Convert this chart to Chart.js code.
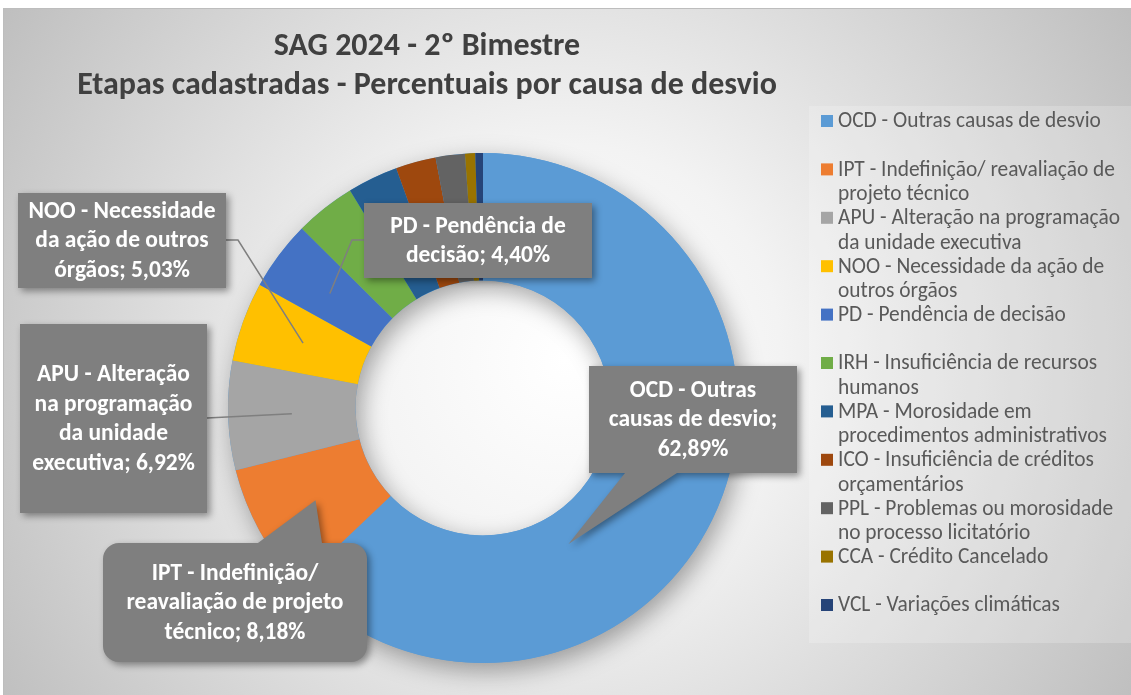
<!DOCTYPE html>
<html><head><meta charset="utf-8">
<script src="https://cdn.jsdelivr.net/npm/chart.js@4.4.1/dist/chart.umd.min.js"></script>
<style>html,body{margin:0;padding:0;background:#fff;}#wrap{position:relative;width:1131px;height:695px;}</style>
</head><body><div id="wrap"><canvas id="c" width="1131" height="695"></canvas></div>
<script>
// ---- data ----
const titleLines = ['SAG 2024 - 2º Bimestre', 'Etapas cadastradas - Percentuais por causa de desvio'];
const categories = [
  'OCD - Outras causas de desvio',
  'IPT - Indefinição/ reavaliação de projeto técnico',
  'APU - Alteração na programação da unidade executiva',
  'NOO - Necessidade da ação de outros órgãos',
  'PD - Pendência de decisão',
  'IRH - Insuficiência de recursos humanos',
  'MPA - Morosidade em procedimentos administrativos',
  'ICO - Insuficiência de créditos orçamentários',
  'PPL - Problemas ou morosidade no processo licitatório',
  'CCA - Crédito Cancelado',
  'VCL - Variações climáticas'
];
const values = [62.89, 8.18, 6.92, 5.03, 4.40, 3.85, 3.20, 2.55, 1.85, 0.65, 0.48];
const colors = ['#5B9BD5','#ED7D31','#A5A5A5','#FFC000','#4472C4','#70AD47','#255E91','#9E480E','#636363','#997300','#264478'];
const legendLines = [
  ['OCD - Outras causas de desvio'],
  ['IPT - Indefinição/ reavaliação de', 'projeto técnico'],
  ['APU - Alteração na programação', 'da unidade executiva'],
  ['NOO - Necessidade da ação de', 'outros órgãos'],
  ['PD - Pendência de decisão'],
  ['IRH - Insuficiência de recursos', 'humanos'],
  ['MPA - Morosidade em', 'procedimentos administrativos'],
  ['ICO - Insuficiência de créditos', 'orçamentários'],
  ['PPL - Problemas ou morosidade', 'no processo licitatório'],
  ['CCA - Crédito Cancelado'],
  ['VCL - Variações climáticas']
];
const labelLines = [
  ['OCD - Outras', 'causas de desvio;', ''],
  ['IPT - Indefinição/', 'reavaliação de projeto', 'técnico; '],
  ['APU - Alteração', 'na programação', 'da unidade', 'executiva; '],
  ['NOO - Necessidade', 'da ação de outros', 'órgãos; '],
  ['PD - Pendência de', 'decisão; ']
];

// ---- layout / style ----
const FONT = 'Carlito, Lato, "Open Sans", sans-serif';
const callouts = {
  0: {kind:'pointerBottom', box:[589,366,797,473], base:[625,677], tip:{af:0.653, rf:0.26}},
  1: {kind:'pointerTop', box:[103,543,367,662], base:[258,322], tip:{af:0.5, rf:0.5}, radius:16},
  2: {kind:'line', box:[20,324,207,513], from:[207,418], tip:{af:0.5, rf:0.5}},
  3: {kind:'line', box:[18,193,226,288], from:[226,240], elbow:[238,240], tip:{af:0.5, rf:0.5}},
  4: {kind:'line', box:[364,203,592,278], from:[364,240], elbow:[352,240], tip:{af:0.5, rf:0.5}}
};

function fitSize(ctx, text, weight, target) {
  ctx.save(); ctx.font = weight + ' 100px ' + FONT;
  const w = ctx.measureText(text).width; ctx.restore();
  return 100 * target / w;
}
function fmt(v){ return v.toFixed(2).replace('.', ',') + '%'; }

const bgPlugin = {
  id: 'bg',
  beforeDraw(chart) {
    const ctx = chart.ctx, W = chart.width, H = chart.height;
    ctx.save();
    ctx.fillStyle = '#ffffff'; ctx.fillRect(0,0,W,H);
    const g = ctx.createRadialGradient(565, 360, 0, 565, 360, 720);
    g.addColorStop(0, '#ffffff'); g.addColorStop(0.3, '#f3f3f3'); g.addColorStop(1, '#b8b8b8');
    ctx.fillStyle = g; ctx.fillRect(3, 8, W-3, H-8);
    ctx.strokeStyle = '#bdbdbd'; ctx.lineWidth = 1; ctx.strokeRect(3.5, 8.5, W, H);
    // legend panel
    ctx.fillStyle = 'rgba(255,255,255,0.2)'; ctx.fillRect(809, 106, W-809, 643-106);
    // title
    ctx.fillStyle = '#404040'; ctx.textAlign = 'center'; ctx.textBaseline = 'middle';
    const ts = fitSize(ctx, titleLines[1], 'bold', 700);
    ctx.font = 'bold ' + ts.toFixed(2) + 'px ' + FONT;
    ctx.fillText(titleLines[0], 427, 47);
    ctx.fillText(titleLines[1], 427, 86);
    // legend
    const ls = fitSize(ctx, 'APU - Alteração na programação', 'normal', 282);
    ctx.font = ls.toFixed(2) + 'px ' + FONT;
    ctx.textAlign = 'left';
    legendLines.forEach((lines, i) => {
      const y0 = 121 + 48.4 * i;
      ctx.fillStyle = colors[i];
      ctx.fillRect(821, y0 - 6, 12, 12);
      ctx.fillStyle = '#595959';
      lines.forEach((t, j) => ctx.fillText(t, 838, y0 + 24.5 * j + 1));
    });
    ctx.restore();
  }
};

const shadowPlugin = {
  id: 'ringShadow',
  beforeDatasetsDraw(chart) {
    const a = chart.getDatasetMeta(0).data[0];
    if (!a) return;
    const ctx = chart.ctx;
    ctx.save();
    ctx.shadowColor = 'rgba(0,0,0,0.35)'; ctx.shadowBlur = 24; ctx.shadowOffsetX = 5; ctx.shadowOffsetY = 8;
    ctx.beginPath();
    ctx.arc(a.x, a.y, a.outerRadius, 0, Math.PI*2);
    ctx.arc(a.x, a.y, a.innerRadius, 0, Math.PI*2, true);
    ctx.fillStyle = colors[0]; ctx.fill();
    ctx.restore();
  }
};

function tipPoint(arc, t) {
  const ang = arc.startAngle + (arc.endAngle - arc.startAngle) * t.af;
  const r = arc.innerRadius + (arc.outerRadius - arc.innerRadius) * t.rf;
  return [arc.x + Math.cos(ang) * r, arc.y + Math.sin(ang) * r];
}

const labelPlugin = {
  id: 'callouts',
  afterDatasetsDraw(chart) {
    const ctx = chart.ctx;
    const arcs = chart.getDatasetMeta(0).data;
    const fs = fitSize(ctx, 'NOO - Necessidade', 'bold', 187);
    Object.keys(callouts).forEach(k => {
      const i = +k, c = callouts[k], arc = arcs[i];
      const [x0,y0,x1,y1] = c.box;
      const tip = tipPoint(arc, c.tip);
      ctx.save();
      if (c.kind === 'line') {
        ctx.strokeStyle = '#7f7f7f'; ctx.lineWidth = 1.5;
        ctx.beginPath(); ctx.moveTo(c.from[0], c.from[1]);
        if (c.elbow) ctx.lineTo(c.elbow[0], c.elbow[1]);
        ctx.lineTo(tip[0], tip[1]); ctx.stroke();
      }
      ctx.shadowColor = 'rgba(0,0,0,0.4)'; ctx.shadowBlur = 7; ctx.shadowOffsetX = 3; ctx.shadowOffsetY = 3;
      ctx.fillStyle = '#7f7f7f';
      ctx.beginPath();
      if (c.kind === 'pointerBottom') {
        ctx.moveTo(x0,y0); ctx.lineTo(x1,y0); ctx.lineTo(x1,y1);
        ctx.lineTo(c.base[1], y1); ctx.lineTo(tip[0], tip[1]); ctx.lineTo(c.base[0], y1);
        ctx.lineTo(x0,y1); ctx.closePath();
      } else if (c.kind === 'pointerTop') {
        const r = c.radius;
        ctx.moveTo(x0 + r, y0); ctx.lineTo(c.base[0], y0); ctx.lineTo(tip[0], tip[1]); ctx.lineTo(c.base[1], y0);
        ctx.lineTo(x1 - r, y0); ctx.arcTo(x1, y0, x1, y0 + r, r);
        ctx.lineTo(x1, y1 - r); ctx.arcTo(x1, y1, x1 - r, y1, r);
        ctx.lineTo(x0 + r, y1); ctx.arcTo(x0, y1, x0, y1 - r, r);
        ctx.lineTo(x0, y0 + r); ctx.arcTo(x0, y0, x0 + r, y0, r);
        ctx.closePath();
      } else {
        ctx.rect(x0, y0, x1 - x0, y1 - y0);
      }
      ctx.fill();
      ctx.shadowColor = 'transparent';
      ctx.fillStyle = '#ffffff'; ctx.textAlign = 'center'; ctx.textBaseline = 'middle';
      ctx.font = 'bold ' + fs.toFixed(2) + 'px ' + FONT;
      const lines = labelLines[i].slice();
      lines[lines.length - 1] = lines[lines.length - 1] + fmt(values[i]);
      const lh = 29.7, cx = (x0 + x1) / 2, cy = (y0 + y1) / 2 + 1;
      lines.forEach((t, j) => ctx.fillText(t, cx, cy + (j - (lines.length - 1) / 2) * lh));
      ctx.restore();
    });
  }
};

new Chart(document.getElementById('c'), {
  type: 'doughnut',
  data: { labels: categories, datasets: [{ data: values, backgroundColor: colors, borderWidth: 0 }] },
  options: {
    responsive: false, animation: false, cutout: '50%',
    layout: { padding: { left: 228, right: 393, top: 153, bottom: 32 } },
    plugins: { legend: { display: false }, tooltip: { enabled: false }, title: { display: false } }
  },
  plugins: [bgPlugin, shadowPlugin, labelPlugin]
});
</script>
</body></html>
